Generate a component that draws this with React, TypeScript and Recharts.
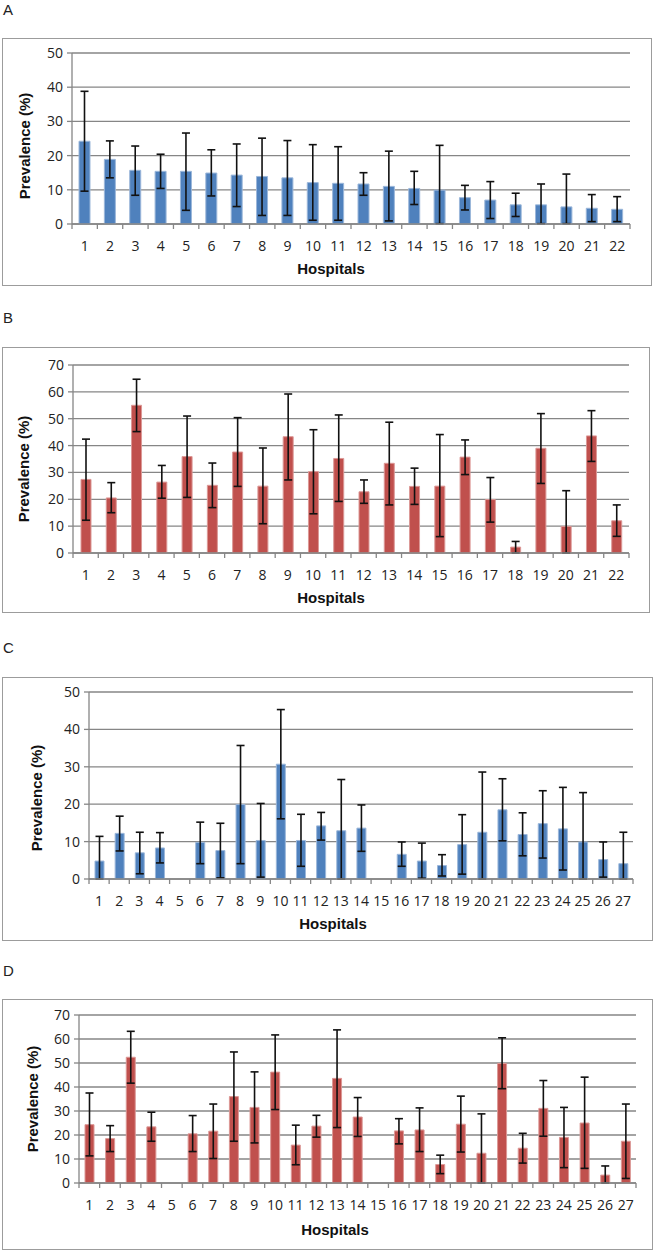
import { Bar, BarChart, CartesianGrid, ErrorBar, XAxis, YAxis } from "recharts";

const hospitals22 = ["1", "2", "3", "4", "5", "6", "7", "8", "9", "10", "11", "12", "13", "14", "15", "16", "17", "18", "19", "20", "21", "22"];
const hospitals27 = [...hospitals22, "23", "24", "25", "26", "27"];

// Panel A
const prevA = [24.2, 18.9, 15.7, 15.4, 15.4, 14.9, 14.3, 13.9, 13.5, 12.1, 11.9, 11.7, 11.0, 10.4, 9.9, 7.7, 7.0, 5.6, 5.6, 5.0, 4.6, 4.3];
const lowA = [9.6, 13.5, 8.4, 10.4, 4.0, 8.2, 5.1, 2.5, 2.5, 1.1, 1.1, 8.4, 0.9, 5.7, 0.1, 4.1, 1.6, 2.2, 0.1, 0.1, 0.7, 0.7];
const highA = [38.8, 24.3, 22.8, 20.4, 26.6, 21.7, 23.4, 25.1, 24.4, 23.2, 22.6, 15.0, 21.3, 15.4, 23.0, 11.3, 12.4, 9.0, 11.7, 14.6, 8.6, 8.0];

// Panel B
const prevB = [27.4, 20.5, 55.0, 26.4, 35.9, 25.2, 37.6, 24.9, 43.3, 30.3, 35.2, 22.8, 33.4, 24.8, 24.9, 35.7, 19.9, 2.2, 39.0, 9.9, 43.6, 12.0];
const lowB = [12.2, 15.0, 45.2, 20.4, 20.7, 16.9, 24.8, 10.9, 27.2, 14.6, 19.2, 18.5, 17.9, 18.1, 6.1, 29.2, 11.5, 0, 25.9, 0, 34.1, 6.2];
const highB = [42.4, 26.2, 64.7, 32.6, 51.0, 33.5, 50.4, 39.1, 59.2, 45.9, 51.4, 27.2, 48.7, 31.6, 44.1, 42.1, 28.1, 4.3, 51.9, 23.2, 53.0, 17.9];

// Panel C (no data for hospitals 5 and 15)
const prevC = [4.8, 12.2, 7.0, 8.3, null, 9.8, 7.6, 19.9, 10.3, 30.7, 10.3, 14.2, 12.9, 13.6, null, 6.6, 4.8, 3.6, 9.2, 12.5, 18.5, 11.9, 14.8, 13.4, 9.9, 5.2, 4.1];
const lowC = [0, 7.5, 1.4, 4.3, null, 4.1, 0.3, 4.1, 0.5, 16.1, 3.4, 10.4, 0, 7.4, null, 3.4, 0.2, 0.8, 1.3, 0, 10.2, 6.2, 5.6, 2.4, 0, 0.5, 0];
const highC = [11.4, 16.8, 12.5, 12.4, null, 15.2, 14.9, 35.7, 20.2, 45.3, 17.3, 17.8, 26.6, 19.8, null, 9.9, 9.6, 6.5, 17.2, 28.6, 26.8, 17.7, 23.6, 24.5, 23.1, 9.9, 12.5];

// Panel D (no data for hospitals 5 and 15)
const prevD = [24.3, 18.5, 52.4, 23.4, null, 20.5, 21.6, 36.0, 31.5, 46.2, 15.8, 23.7, 43.6, 27.5, null, 21.7, 22.1, 7.7, 24.5, 12.4, 49.8, 14.5, 31.1, 19.0, 25.0, 3.3, 17.4];
const lowD = [11.3, 13.1, 41.6, 17.4, null, 13.1, 10.2, 17.4, 16.7, 30.6, 7.6, 19.1, 23.1, 19.4, null, 16.3, 13.1, 3.9, 12.9, 0, 39.3, 8.3, 19.5, 6.4, 6.1, 0, 1.9];
const highD = [37.5, 23.9, 63.2, 29.5, null, 28.1, 32.9, 54.6, 46.3, 61.7, 24.1, 28.2, 63.8, 35.6, null, 26.8, 31.3, 11.6, 36.2, 28.8, 60.5, 20.7, 42.7, 31.5, 44.1, 7.1, 32.9];

const ticks50 = [0, 10, 20, 30, 40, 50];
const ticks70 = [0, 10, 20, 30, 40, 50, 60, 70];

const BLUE = "#4F81BD";
const RED = "#C0504D";
const GRID = "#868686";
const TICK_FONT = "'Open Sans', sans-serif";

function rows(names: string[], prev: (number | null)[], low: (number | null)[], high: (number | null)[]) {
  return names.map((name, i) => {
    const v = prev[i];
    const lo = low[i];
    const hi = high[i];
    return {
      name,
      prev: v,
      err: v == null || lo == null || hi == null ? undefined : [v - lo, hi - v],
    };
  });
}

// excel-style x ticks: marks sit between the categories, not under them
function HospTick(props: any) {
  const { x, y, payload, index, step, count } = props;
  const half = step / 2;
  return (
    <g>
      <line x1={x - half} x2={x - half} y1={y} y2={y + 5} stroke={GRID} strokeWidth={1.3} />
      {index === count - 1 && <line x1={x + half} x2={x + half} y1={y} y2={y + 5} stroke={GRID} strokeWidth={1.3} />}
      <text x={x} y={y + 22} dy="0.35em" textAnchor="middle" fontSize={14} fontFamily={TICK_FONT} fill="#222">
        {payload.value}
      </text>
    </g>
  );
}

type PanelProps = {
  letter: string;
  letterY: number;
  box: { x: number; y: number; w: number; h: number };
  plot: { l: number; t: number; r: number; b: number };
  yTitle: [number, number];
  xTitle: [number, number];
  data: { name: string; prev: number | null; err?: number[] }[];
  color: string;
  edge: string;
  yMax: number;
  ticks: number[];
  barSize: number;
};

function Panel({ letter, letterY, box, plot, yTitle, xTitle, data, color, edge, yMax, ticks, barSize }: PanelProps) {
  const yW = 50;
  const left = plot.l - box.x - yW;
  const right = box.x + box.w - plot.r;
  const bottom = 5;
  const xH = box.y + box.h - plot.b - bottom;
  const step = (plot.r - plot.l) / data.length;
  const titleStyle = { fontFamily: "'Liberation Sans', Arial, sans-serif", fontWeight: 700, fontSize: 15, fill: "#111" };
  const ty = [yTitle[0] - box.x, yTitle[1] - box.y];
  const tx = [xTitle[0] - box.x, xTitle[1] - box.y];
  return (
    <>
      <div
        style={{
          position: "absolute",
          left: 3,
          top: letterY - 9,
          fontFamily: "'Liberation Sans', Arial, sans-serif",
          fontSize: 15,
          lineHeight: "18px",
          color: "#222",
        }}
      >
        {letter}
      </div>
      <div
        style={{
          position: "absolute",
          left: box.x,
          top: box.y,
          width: box.w,
          height: box.h,
          boxSizing: "border-box",
          border: "1px solid #9c9c9c",
          background: "#fff",
        }}
      />
      <div style={{ position: "absolute", left: box.x, top: box.y }}>
        <BarChart
          width={box.w}
          height={box.h}
          data={data}
          margin={{ top: plot.t - box.y, right, left, bottom }}
          barCategoryGap="0%"
        >
          <CartesianGrid vertical={false} stroke={GRID} strokeWidth={1.3} />
          <XAxis
            dataKey="name"
            interval={0}
            tickLine={false}
            tickSize={0}
            tickMargin={0}
            height={xH}
            axisLine={{ stroke: GRID, strokeWidth: 1.3 }}
            tick={(p: any) => <HospTick {...p} step={step} count={data.length} />}
          />
          <YAxis
            width={yW}
            domain={[0, yMax]}
            ticks={ticks}
            interval={0}
            tickSize={5}
            tickMargin={4}
            axisLine={{ stroke: GRID, strokeWidth: 1.3 }}
            tickLine={{ stroke: GRID, strokeWidth: 1.3 }}
            tick={{ fontSize: 14, fill: "#222", fontFamily: TICK_FONT }}
          />
          <Bar dataKey="prev" fill={color} stroke={edge} strokeWidth={1} barSize={barSize} isAnimationActive={false}>
            <ErrorBar dataKey="err" direction="y" width={4} stroke="#111" strokeWidth={1.6} />
          </Bar>
          <text
            x={ty[0]}
            y={ty[1]}
            dy="0.35em"
            textAnchor="middle"
            transform={`rotate(-90 ${ty[0]} ${ty[1]})`}
            style={titleStyle}
          >
            Prevalence (%)
          </text>
          <text x={tx[0]} y={tx[1]} dy="0.35em" textAnchor="middle" style={titleStyle}>
            Hospitals
          </text>
        </BarChart>
      </div>
    </>
  );
}

export default function App() {
  return (
    <div style={{ position: "absolute", left: 0, top: 0, width: 656, height: 1252, background: "#fff" }}>
      <Panel
        letter="A"
        letterY={10}
        box={{ x: 2, y: 38, w: 650, h: 248 }}
        plot={{ l: 72, t: 53, r: 630, b: 224 }}
        yTitle={[25, 146]}
        xTitle={[331, 269]}
        data={rows(hospitals22, prevA, lowA, highA)}
        color={BLUE}
        edge="#9bb7da"
        yMax={50}
        ticks={ticks50}
        barSize={11}
      />
      <Panel
        letter="B"
        letterY={318}
        box={{ x: 2, y: 347, w: 648, h: 266 }}
        plot={{ l: 73, t: 365, r: 629, b: 553 }}
        yTitle={[24, 469]}
        xTitle={[331, 598]}
        data={rows(hospitals22, prevB, lowB, highB)}
        color={RED}
        edge="#dc9896"
        yMax={70}
        ticks={ticks70}
        barSize={10}
      />
      <Panel
        letter="C"
        letterY={648}
        box={{ x: 2, y: 677, w: 651, h: 264 }}
        plot={{ l: 89, t: 692, r: 633, b: 879 }}
        yTitle={[37, 798]}
        xTitle={[333, 924]}
        data={rows(hospitals27, prevC, lowC, highC)}
        color={BLUE}
        edge="#9bb7da"
        yMax={50}
        ticks={ticks50}
        barSize={9}
      />
      <Panel
        letter="D"
        letterY={971}
        box={{ x: 2, y: 999, w: 651, h: 251 }}
        plot={{ l: 79, t: 1015, r: 636, b: 1183 }}
        yTitle={[33, 1099]}
        xTitle={[335, 1230]}
        data={rows(hospitals27, prevD, lowD, highD)}
        color={RED}
        edge="#dc9896"
        yMax={70}
        ticks={ticks70}
        barSize={9}
      />
    </div>
  );
}
